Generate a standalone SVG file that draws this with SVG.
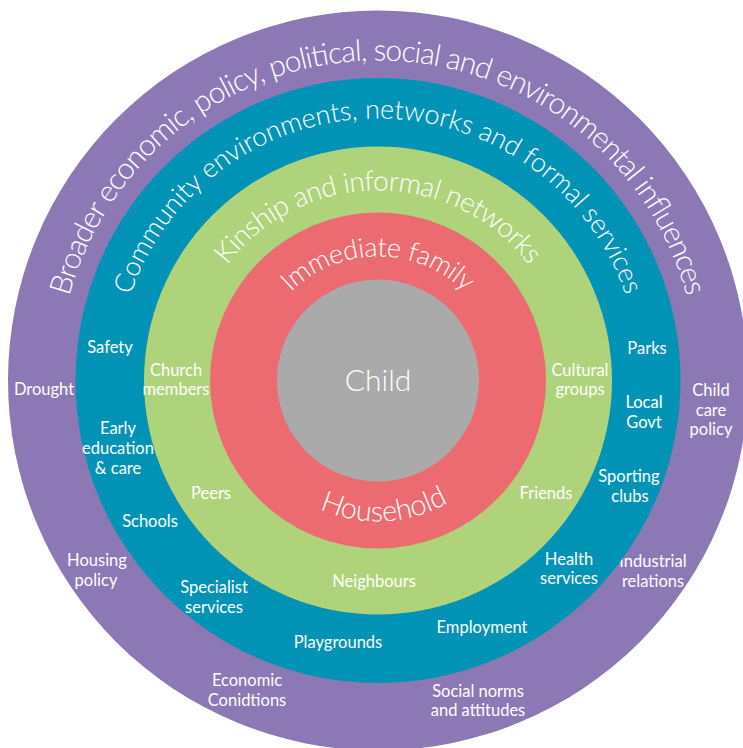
<svg xmlns="http://www.w3.org/2000/svg" width="743" height="748" viewBox="0 0 743 748">
<style>
.ring-title{font-family:Lato,"Liberation Sans",sans-serif;font-weight:300;fill:#ffffff}
.lbl{font-family:Lato,"Liberation Sans",sans-serif;font-weight:400;font-size:16.5px;fill:#ffffff;text-anchor:middle}
.child{font-family:Lato,"Liberation Sans",sans-serif;font-weight:300;font-size:30px;fill:#ffffff;text-anchor:middle}
</style>
<defs>
<path id="pOuter" d="M58,380.5 A320,320 0 0 1 698,380.5"/>
<path id="pTeal" d="M116,380.5 A262,262 0 0 1 640,380.5"/>
<path id="pGreen" d="M188,380.5 A190,190 0 0 1 568,380.5"/>
<path id="pRed" d="M254,380.5 A124,124 0 0 1 502,380.5"/>
<path id="pHouse" d="M237,380.5 A141,141 0 0 0 519,380.5"/>
</defs>
<rect width="743" height="748" fill="#ffffff"/>
<g id="broader">
<circle cx="378" cy="380.5" r="370" fill="#8B78B4"/>
<text class="ring-title" font-size="30"><textPath href="#pOuter" startOffset="50%" text-anchor="middle" textLength="835" lengthAdjust="spacing">Broader economic, policy, political, social and environmental influences</textPath></text>
<text class="lbl" x="44" y="395">Drought</text>
<text class="lbl" x="97" y="566">Housing</text>
<text class="lbl" x="96" y="586">policy</text>
<text class="lbl" x="247" y="686">Economic</text>
<text class="lbl" x="247" y="706">Conidtions</text>
<text class="lbl" x="478" y="697">Social norms</text>
<text class="lbl" x="478" y="716">and attitudes</text>
<text class="lbl" x="653" y="567">Industrial</text>
<text class="lbl" x="653" y="587">relations</text>
<text class="lbl" x="711" y="396">Child</text>
<text class="lbl" x="711" y="416">care</text>
<text class="lbl" x="711" y="435">policy</text>
</g>
<g id="community">
<circle cx="378" cy="380.5" r="302.5" fill="#0093B5"/>
<text class="ring-title" font-size="27"><textPath href="#pTeal" startOffset="50%" text-anchor="middle" textLength="649" lengthAdjust="spacing">Community environments, networks and formal services</textPath></text>
<text class="lbl" x="110" y="353">Safety</text>
<text class="lbl" x="118" y="434">Early</text>
<text class="lbl" x="118" y="454">education</text>
<text class="lbl" x="118" y="474">&amp; care</text>
<text class="lbl" x="150" y="527">Schools</text>
<text class="lbl" x="214" y="593">Specialist</text>
<text class="lbl" x="214" y="613">services</text>
<text class="lbl" x="338" y="648">Playgrounds</text>
<text class="lbl" x="482" y="633">Employment</text>
<text class="lbl" x="569" y="565">Health</text>
<text class="lbl" x="569" y="584">services</text>
<text class="lbl" x="629" y="482">Sporting</text>
<text class="lbl" x="630" y="502">clubs</text>
<text class="lbl" x="644" y="408">Local</text>
<text class="lbl" x="644" y="428">Govt</text>
<text class="lbl" x="647" y="354">Parks</text>
</g>
<g id="kinship">
<circle cx="378" cy="380.5" r="234" fill="#AED37B"/>
<text class="ring-title" font-size="28"><textPath href="#pGreen" startOffset="50%" text-anchor="middle" textLength="349" lengthAdjust="spacing">Kinship and informal networks</textPath></text>
<text class="lbl" x="176" y="376">Church</text>
<text class="lbl" x="176" y="395">members</text>
<text class="lbl" x="211" y="499">Peers</text>
<text class="lbl" x="374" y="587">Neighbours</text>
<text class="lbl" x="546" y="499">Friends</text>
<text class="lbl" x="580" y="376">Cultural</text>
<text class="lbl" x="580" y="395">groups</text>
</g>
<g id="immediate">
<circle cx="378" cy="380.5" r="168" fill="#EB6B70"/>
<text class="ring-title" font-size="27"><textPath href="#pRed" startOffset="50%" text-anchor="middle" textLength="193" lengthAdjust="spacing">Immediate family</textPath></text>
<text class="ring-title" font-size="29"><textPath href="#pHouse" startOffset="51.5%" text-anchor="middle" textLength="134" lengthAdjust="spacing">Household</textPath></text>
</g>
<g id="child">
<circle cx="378" cy="380.5" r="101" fill="#AAAAAA"/>
<text class="child" x="378" y="391">Child</text>
</g>
<g id="connectors"></g>
</svg>
